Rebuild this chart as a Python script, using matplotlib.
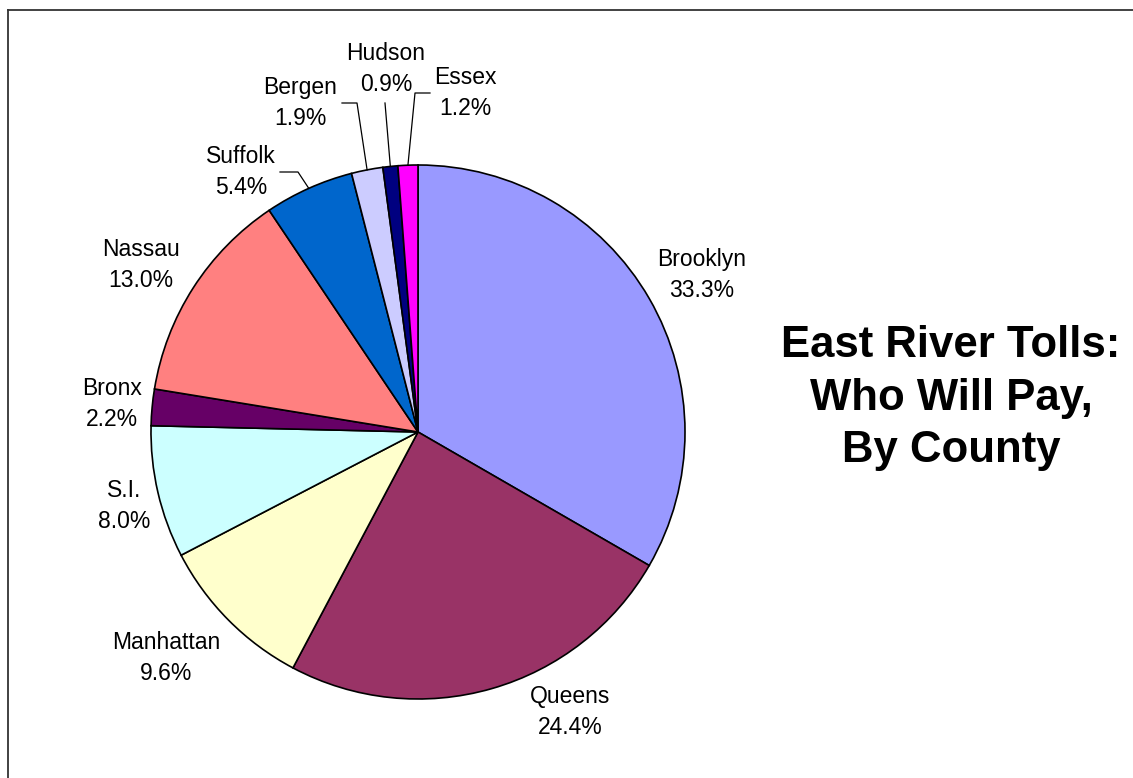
"""East River tolls pie chart, by county"""

import matplotlib
matplotlib.use("Agg")
import matplotlib.pyplot as plt
import numpy as np
from matplotlib.lines import Line2D

W, H = 1133, 778

# data
counties = ["Brooklyn", "Queens", "Manhattan", "S.I.", "Bronx",
            "Nassau", "Suffolk", "Bergen", "Hudson", "Essex"]
shares = [33.3, 24.4, 9.6, 8.0, 2.2, 13.0, 5.4, 1.9, 0.9, 1.2]
colors = ["#9999FF", "#993366", "#FFFFCC", "#CCFFFF", "#660066",
          "#FF8080", "#0066CC", "#CCCCFF", "#000080", "#FF00FF"]

# label centres (pixels) and leader-line elbows for the small slices
label_pos = [(702, 275), (570, 712), (166, 658), (124, 506), (112, 404),
             (141, 265), (241, 172), (300, 103), (386, 69), (465, 93)]
leaders = {"Suffolk": [(280, 172), (298, 172)],
           "Bergen": [(342, 103), (357, 103)],
           "Hudson": [(385, 103)],
           "Essex": [(430, 93), (415, 93)]}

center = (418, 432)
radius = 267

plt.rcParams["font.family"] = ["Liberation Sans", "DejaVu Sans"]

fig = plt.figure(figsize=(W / 100, H / 100), dpi=100)
ax = fig.add_axes([0, 0, 1, 1])

# y axis is inverted (pixel coords), so counterclock=True draws clockwise on screen
wedges, _ = ax.pie(shares, colors=colors, center=center, radius=radius,
                   startangle=270, counterclock=True,
                   wedgeprops={"edgecolor": "black", "linewidth": 1.2})

ax.set_xlim(0, W)
ax.set_ylim(H, 0)
ax.set_aspect("equal")
ax.axis("off")

for wedge, name, val, pos in zip(wedges, counties, shares, label_pos):
    ax.text(pos[0], pos[1], f"{name}\n{val:.1f}%", ha="center", va="center",
            fontsize=16.5, linespacing=1.4)
    if name in leaders:
        mid = np.radians((wedge.theta1 + wedge.theta2) / 2)
        edge = (center[0] + radius * np.cos(mid), center[1] + radius * np.sin(mid))
        pts = leaders[name] + [edge]
        xs, ys = zip(*pts)
        ax.plot(xs, ys, color="black", linewidth=0.9)

ax.text(951, 398, "East River Tolls:\nWho Will Pay,\nBy County", ha="center",
        va="center", fontsize=31.5, fontweight="bold", linespacing=1.35)

# chart border (right and bottom edges fall outside the picture)
fig.add_artist(Line2D([8 / W, 1], [1 - 9.5 / H, 1 - 9.5 / H],
                      transform=fig.transFigure, color="#333333", linewidth=1.3))
fig.add_artist(Line2D([8 / W, 8 / W], [0, 1 - 9.5 / H],
                      transform=fig.transFigure, color="#333333", linewidth=1.3))

fig.savefig("out.png", dpi=100)
